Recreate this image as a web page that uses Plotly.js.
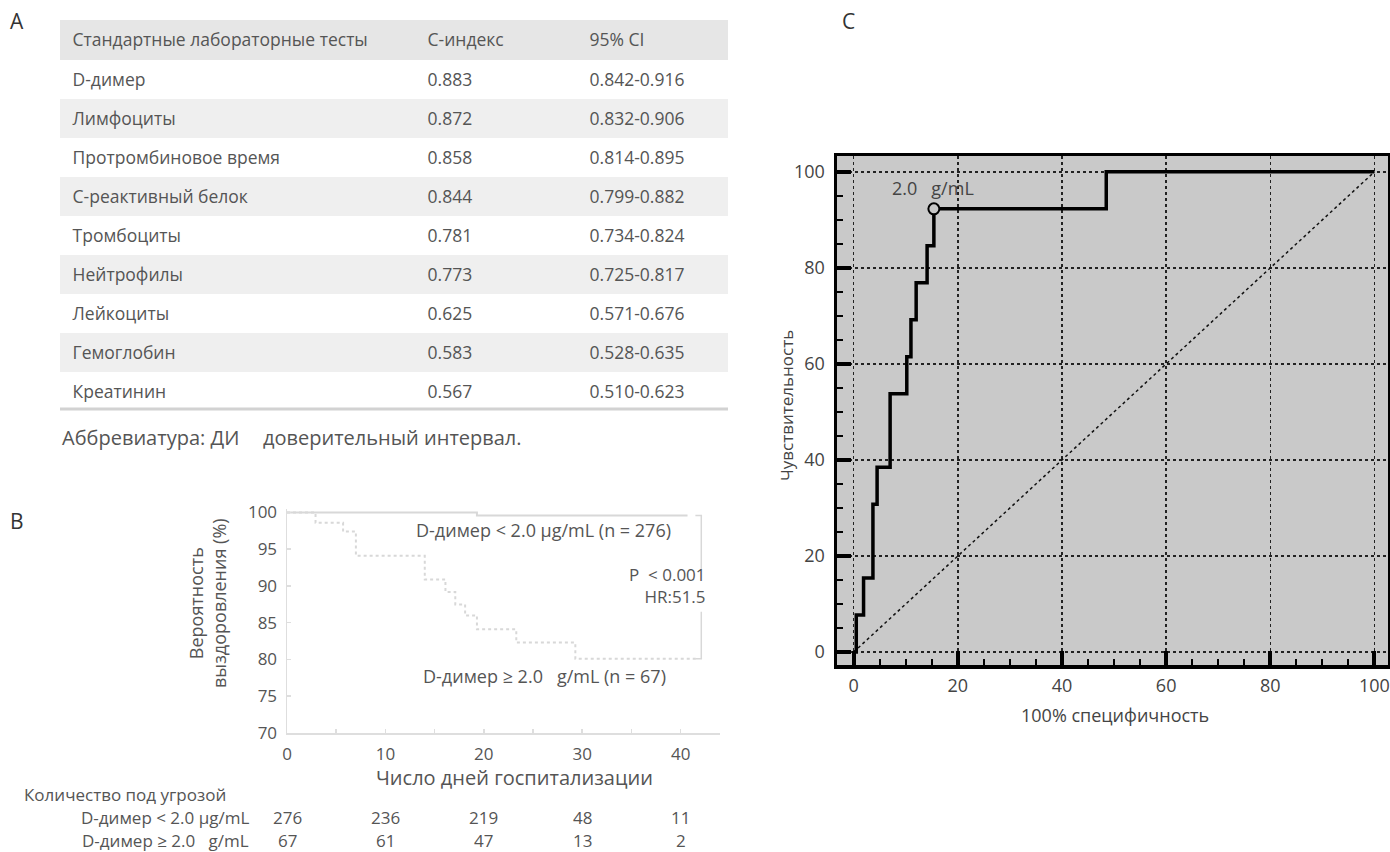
<!DOCTYPE html>
<html>
<head>
<meta charset="utf-8">
<script src="https://cdn.plot.ly/plotly-3.0.1.min.js"></script>
<style>html,body{margin:0;padding:0;background:#fff;}#chart{width:1390px;height:852px;}</style>
</head>
<body>
<div id="chart"></div>
<script>
// ---------- Panel A data ----------
const tableHeader = ["Стандартные лабораторные тесты", "С-индекс", "95% CI"];
const tests = ["D-димер", "Лимфоциты", "Протромбиновое время", "С-реактивный белок", "Тромбоциты", "Нейтрофилы", "Лейкоциты", "Гемоглобин", "Креатинин"];
const cIndex = ["0.883", "0.872", "0.858", "0.844", "0.781", "0.773", "0.625", "0.583", "0.567"];
const ci95 = ["0.842-0.916", "0.832-0.906", "0.814-0.895", "0.799-0.882", "0.734-0.824", "0.725-0.817", "0.571-0.676", "0.528-0.635", "0.510-0.623"];
const footnoteLeft = "Аббревиатура: ДИ";
const footnoteRight = "доверительный интервал.";

// ---------- Panel B data (Kaplan-Meier) ----------
const kmLowDays = [0, 19.3, 40.7];
const kmLowSurv = [100, 99.6, 99.6];
const kmHighDays = [0, 2.9, 5.7, 7.0, 14.0, 16.1, 17.1, 18.1, 19.3, 23.3, 29.3, 41.8];
const kmHighSurv = [100, 98.6, 97.4, 94.1, 90.9, 89.2, 87.5, 86.0, 84.1, 82.3, 80.1, 80.1];
const bracketX = [41.5, 42.1, 42.1, null, 42.1, 42.1, 41.5];
const bracketY = [99.6, 99.6, 92.2, null, 86.5, 80.1, 80.1];
const riskDays = [0, 10, 20, 30, 40];
const riskLow = [276, 236, 219, 48, 11];
const riskHigh = [67, 61, 47, 13, 2];
const riskTitle = "Количество под угрозой";
const groupLowLabel = "D-димер < 2.0 μg/mL";
const groupHighLabel = "D-димер ≥ 2.0   g/mL";

// ---------- Panel C data (ROC) ----------
const rocSpec = [0, 0.5, 1.9, 3.7, 4.5, 7.0, 10.2, 11.0, 12.0, 14.1, 15.4, 48.5, 100];
const rocSens = [0, 7.7, 15.4, 30.8, 38.5, 53.8, 61.5, 69.2, 76.9, 84.6, 92.3, 100, 100];
const cutoffSpec = [15.4];
const cutoffSens = [92.3];
const cutoffLabel = "2.0   g/mL";
const diagX = [0, 100];
const diagY = [0, 100];

// ---------- helpers ----------
const W = 1390, H = 852;
const px = x => x / W;
const py = y => 1 - y / H;
const FONT = "Open Sans, Noto Sans, sans-serif";
const TXT = "#555";

const rowFill = tests.map((_, i) => i % 2 === 0 ? "#ffffff" : "#efefef");
const blank = tests.map(() => "");
const NONE = "rgba(0,0,0,0)";

const traces = [];

// Table backgrounds
traces.push({
  type: "table",
  domain: {x: [px(60), px(728)], y: [py(411), py(20)]},
  columnwidth: [355, 162, 151],
  header: {values: ["", "", ""], height: 40, fill: {color: "#e6e6e6"}, line: {color: NONE, width: 0}, font: {size: 10}},
  cells: {values: [blank, blank, blank], height: 39, fill: {color: [rowFill, rowFill, rowFill]}, line: {color: NONE, width: 0}, font: {size: 10}}
});
// Table text (shifted to be vertically centred in the rows)
traces.push({
  type: "table",
  domain: {x: [px(60), px(728)], y: [py(416), py(25)]},
  columnwidth: [355, 162, 151],
  header: {
    values: tableHeader.map(h => "\u00a0" + h),
    align: "left", height: 40,
    fill: {color: NONE}, line: {color: NONE, width: 0},
    font: {family: FONT, size: 17.5, color: TXT}
  },
  cells: {
    values: [tests.map(t => "\u00a0" + t), cIndex.map(t => "\u00a0" + t), ci95.map(t => "\u00a0" + t)],
    align: "left", height: 39,
    fill: {color: NONE}, line: {color: NONE, width: 0},
    font: {family: FONT, size: 17.5, color: TXT}
  }
});

// KM curves
traces.push({
  type: "scatter", mode: "lines", x: kmLowDays, y: kmLowSurv, xaxis: "x", yaxis: "y",
  line: {shape: "hv", color: "#d8d8d8", width: 2}, hoverinfo: "skip"
});
traces.push({
  type: "scatter", mode: "lines", x: kmHighDays, y: kmHighSurv, xaxis: "x", yaxis: "y",
  line: {shape: "hv", color: "#d8d8d8", width: 2, dash: "dot"}, hoverinfo: "skip"
});
traces.push({
  type: "scatter", mode: "lines", x: bracketX, y: bracketY, xaxis: "x", yaxis: "y",
  line: {color: "#d8d8d8", width: 1.5}, connectgaps: false, hoverinfo: "skip"
});

// ROC
traces.push({
  type: "scatter", mode: "lines", x: diagX, y: diagY, xaxis: "x2", yaxis: "y2",
  line: {color: "#111", width: 1.5, dash: "dot"}, hoverinfo: "skip"
});
traces.push({
  type: "scatter", mode: "lines", x: rocSpec, y: rocSens, xaxis: "x2", yaxis: "y2",
  line: {shape: "hv", color: "#000", width: 3.5}, hoverinfo: "skip"
});
traces.push({
  type: "scatter", mode: "markers", x: cutoffSpec, y: cutoffSens, xaxis: "x2", yaxis: "y2",
  marker: {symbol: "circle", size: 11, color: "#c8c8c8", line: {color: "#000", width: 2}}, hoverinfo: "skip"
});

const annotations = [];
function ann(o) {
  const base = {showarrow: false, font: {family: FONT, size: 18, color: TXT}};
  annotations.push(Object.assign(base, o));
}

// Panel letters
ann({text: "A", x: px(17), y: py(21), xref: "paper", yref: "paper", xanchor: "center", yanchor: "middle", font: {family: FONT, size: 21, color: "#333"}});
ann({text: "B", x: px(17), y: py(521), xref: "paper", yref: "paper", xanchor: "center", yanchor: "middle", font: {family: FONT, size: 21, color: "#333"}});
ann({text: "C", x: px(848), y: py(21), xref: "paper", yref: "paper", xanchor: "center", yanchor: "middle", font: {family: FONT, size: 21, color: "#333"}});

// footnote
ann({text: footnoteLeft, x: px(60), y: py(437), xref: "paper", yref: "paper", xanchor: "left", yanchor: "middle", font: {family: FONT, size: 20, color: TXT}});
ann({text: footnoteRight, x: px(261), y: py(437), xref: "paper", yref: "paper", xanchor: "left", yanchor: "middle", font: {family: FONT, size: 20, color: TXT}});

// KM annotations
ann({text: "D-димер < 2.0 μg/mL (n = 276)", x: 26.1, y: 97.6, xref: "x", yref: "y", xanchor: "center", yanchor: "middle"});
ann({text: "D-димер ≥ 2.0   g/mL (n = 67)", x: 26.2, y: 77.8, xref: "x", yref: "y", xanchor: "center", yanchor: "middle"});
ann({text: "P  < 0.001<br>HR:51.5", x: 42.8, y: 90.0, xref: "x", yref: "y", xanchor: "right", yanchor: "middle", align: "right", font: {family: FONT, size: 17, color: TXT}});
ann({text: "Вероятность<br>выздоровления (%)", x: px(207), y: py(603), xref: "paper", yref: "paper", xanchor: "center", yanchor: "middle", textangle: -90});
ann({text: "Число дней госпитализации", x: px(514), y: py(777), xref: "paper", yref: "paper", xanchor: "center", yanchor: "middle", font: {family: FONT, size: 20, color: TXT}});

// risk table
const RF = {family: FONT, size: 17, color: TXT};
ann({text: riskTitle, x: px(22), y: py(794), xref: "paper", yref: "paper", xanchor: "left", yanchor: "middle", font: RF});
ann({text: groupLowLabel, x: px(251), y: py(817), xref: "paper", yref: "paper", xanchor: "right", yanchor: "middle", font: RF});
ann({text: groupHighLabel, x: px(251), y: py(840), xref: "paper", yref: "paper", xanchor: "right", yanchor: "middle", font: RF});
riskDays.forEach((d, i) => {
  ann({text: String(riskLow[i]), x: d, y: py(817), xref: "x", yref: "paper", xanchor: "center", yanchor: "middle", font: RF});
  ann({text: String(riskHigh[i]), x: d, y: py(840), xref: "x", yref: "paper", xanchor: "center", yanchor: "middle", font: RF});
});

// ROC annotations
ann({text: cutoffLabel, x: 15.2, y: 96.6, xref: "x2", yref: "y2", xanchor: "center", yanchor: "middle", font: {family: FONT, size: 18, color: "#444"}});
ann({text: "Чувствительность", x: px(786), y: py(406), xref: "paper", yref: "paper", xanchor: "center", yanchor: "middle", textangle: -90, font: {family: FONT, size: 17, color: "#444"}});
ann({text: "100% специфичность", x: px(1115), y: py(715), xref: "paper", yref: "paper", xanchor: "center", yanchor: "middle", font: {family: FONT, size: 18, color: "#444"}});

const shapes = [
  {type: "line", xref: "paper", yref: "paper", x0: px(60), x1: px(728), y0: py(409), y1: py(409), line: {color: "#d2d2d2", width: 3}},
  {type: "rect", xref: "x2 domain", yref: "y2 domain", x0: 0, x1: 1, y0: 0, y1: 1, layer: "below", fillcolor: "#c9c9c9", line: {width: 0}}
];

const layout = {
  width: W, height: H,
  margin: {l: 0, r: 0, t: 0, b: 0},
  paper_bgcolor: "#ffffff",
  plot_bgcolor: "rgba(0,0,0,0)",
  showlegend: false,
  font: {family: FONT, color: TXT},
  xaxis: {
    domain: [px(287), px(720)], anchor: "y",
    range: [0, 44], tick0: 0, dtick: 10,
    showgrid: false, zeroline: false,
    showline: true, linecolor: "#dedede", linewidth: 1.5,
    ticks: "inside", ticklen: 4, tickcolor: "#dedede", tickwidth: 1.5,
    minor: {dtick: 5, ticks: "inside", ticklen: 4, tickcolor: "#dedede", tickwidth: 1.5, showgrid: false},
    tickfont: {family: FONT, size: 17, color: TXT}, ticklabelstandoff: 5
  },
  yaxis: {
    domain: [py(733), py(733 - 30.5 * 7.35)], anchor: "x",
    range: [70, 100.5], tick0: 70, dtick: 5,
    showgrid: false, zeroline: false,
    showline: true, linecolor: "#dedede", linewidth: 1.5,
    ticks: "inside", ticklen: 4, tickcolor: "#dedede", tickwidth: 1.5,
    tickfont: {family: FONT, size: 17, color: TXT}, ticklabelstandoff: 5
  },
  xaxis2: {
    domain: [px(837), px(1388)], anchor: "y2",
    range: [-3.2, 102.6], tick0: 0, dtick: 20,
    showgrid: true, gridcolor: "#222", griddash: "dot", gridwidth: 1.5,
    zeroline: false,
    showline: true, linecolor: "#000", linewidth: 3.5, mirror: true,
    ticks: "inside", ticklen: 14, tickwidth: 4, tickcolor: "#000",
    minor: {dtick: 5, ticks: "inside", ticklen: 6, tickwidth: 2, tickcolor: "#000", showgrid: false},
    tickfont: {family: FONT, size: 18, color: "#444"}, ticklabelstandoff: 2
  },
  yaxis2: {
    domain: [py(665), py(156)], anchor: "x2",
    range: [-2.7, 103.3], tick0: 0, dtick: 20,
    showgrid: true, gridcolor: "#222", griddash: "dot", gridwidth: 1.5,
    zeroline: false,
    showline: true, linecolor: "#000", linewidth: 3.5, mirror: true,
    ticks: "inside", ticklen: 14, tickwidth: 4, tickcolor: "#000",
    minor: {dtick: 5, ticks: "inside", ticklen: 6, tickwidth: 2, tickcolor: "#000", showgrid: false},
    tickfont: {family: FONT, size: 18, color: "#444"}, ticklabelstandoff: 5
  },
  annotations: annotations,
  shapes: shapes
};

Plotly.newPlot("chart", traces, layout, {staticPlot: true, displayModeBar: false});
</script>
</body>
</html>
